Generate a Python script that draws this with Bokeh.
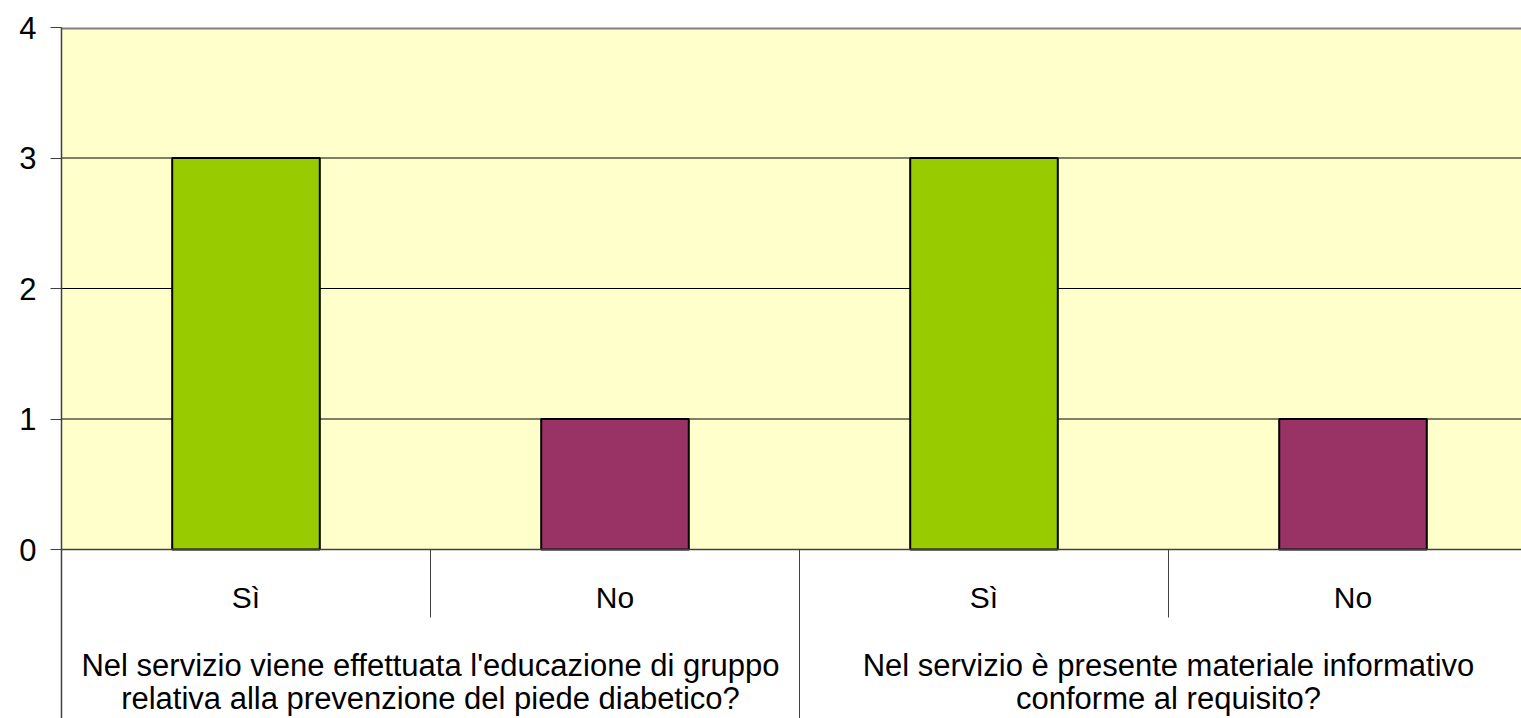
from bokeh.plotting import figure
from bokeh.models import Range1d, FixedTicker, ColumnDataSource
from bokeh.core.properties import value
from bokeh.embed import file_html
from bokeh.resources import INLINE

# data
groups = ["Nel servizio viene effettuata l'educazione di gruppo\nrelativa alla prevenzione del piede diabetico?",
          "Nel servizio è presente materiale informativo\nconforme al requisito?"]
answers = ["Sì", "No", "Sì", "No"]
counts = [3, 1, 3, 1]
bar_colors = ["#99CC00", "#993366", "#99CC00", "#993366"]
y_ticks = [0, 1, 2, 3, 4]

FONT = "Liberation Sans"
y_bottom = -169 / 130.5

p = figure(width=1521, height=718, output_backend="svg", toolbar_location=None,
           x_range=Range1d(0, 1460 / 369), y_range=Range1d(y_bottom, 4),
           min_border_left=61, min_border_right=0, min_border_top=27, min_border_bottom=0)
p.outline_line_color = None
p.xaxis.visible = False
p.xgrid.visible = False
p.ygrid.visible = False
p.background_fill_color = "white"

# plot-area background
p.quad(left=[0], right=[len(answers)], bottom=[0], top=[max(y_ticks)],
       fill_color="#FFFFCC", line_color=None)
# gridlines
inner = [t for t in y_ticks if 0 < t < max(y_ticks)]
p.segment(x0=[0] * len(inner), x1=[len(answers)] * len(inner), y0=inner, y1=inner,
          line_color="black", line_width=1)
p.segment(x0=[0], x1=[len(answers)], y0=[max(y_ticks)], y1=[max(y_ticks)],
          line_color="#808080", line_width=4)

# bars
xs = [i + 0.5 for i in range(len(answers))]
src = ColumnDataSource(dict(x=xs, top=counts, color=bar_colors))
p.vbar(x="x", top="top", bottom=0, width=0.4, fill_color="color",
       line_color="black", line_width=2, source=src)

# category axis line
p.segment(x0=[0], x1=[len(answers)], y0=[0], y1=[0], line_color="#404040", line_width=1.5)
# dividers
p.segment(x0=[1, 3], x1=[1, 3], y0=[0, 0], y1=[-0.521, -0.521], line_color="#404040", line_width=1)
p.segment(x0=[2], x1=[2], y0=[0], y1=[y_bottom], line_color="#404040", line_width=1)

# category labels
p.text(x=xs, y=[-0.368] * len(answers), text=answers, text_align="center",
       text_baseline="middle", text_font=value(FONT), text_font_size="30px", text_color="black")
g_lines1 = [g.split("\n")[0] for g in groups]
g_lines2 = [g.split("\n")[1] for g in groups]
p.text(x=[1, 3], y=[-0.889, -0.889], text=g_lines1, text_align="center",
       text_baseline="middle", text_font=value(FONT), text_font_size="31px", text_color="black")
p.text(x=[1, 3], y=[-1.142, -1.142], text=g_lines2, text_align="center",
       text_baseline="middle", text_font=value(FONT), text_font_size="31px", text_color="black")

# y axis
yax = p.yaxis[0]
yax.ticker = FixedTicker(ticks=y_ticks)
yax.axis_line_color = "#404040"
yax.axis_line_width = 1.5
yax.major_tick_in = 0
yax.major_tick_out = 11
yax.major_tick_line_color = "#404040"
yax.minor_tick_line_color = None
yax.major_label_text_font = FONT
yax.major_label_text_font_size = "31px"
yax.major_label_text_color = "black"
yax.major_label_standoff = 14

open("out.html", "w").write(file_html(p, INLINE))
